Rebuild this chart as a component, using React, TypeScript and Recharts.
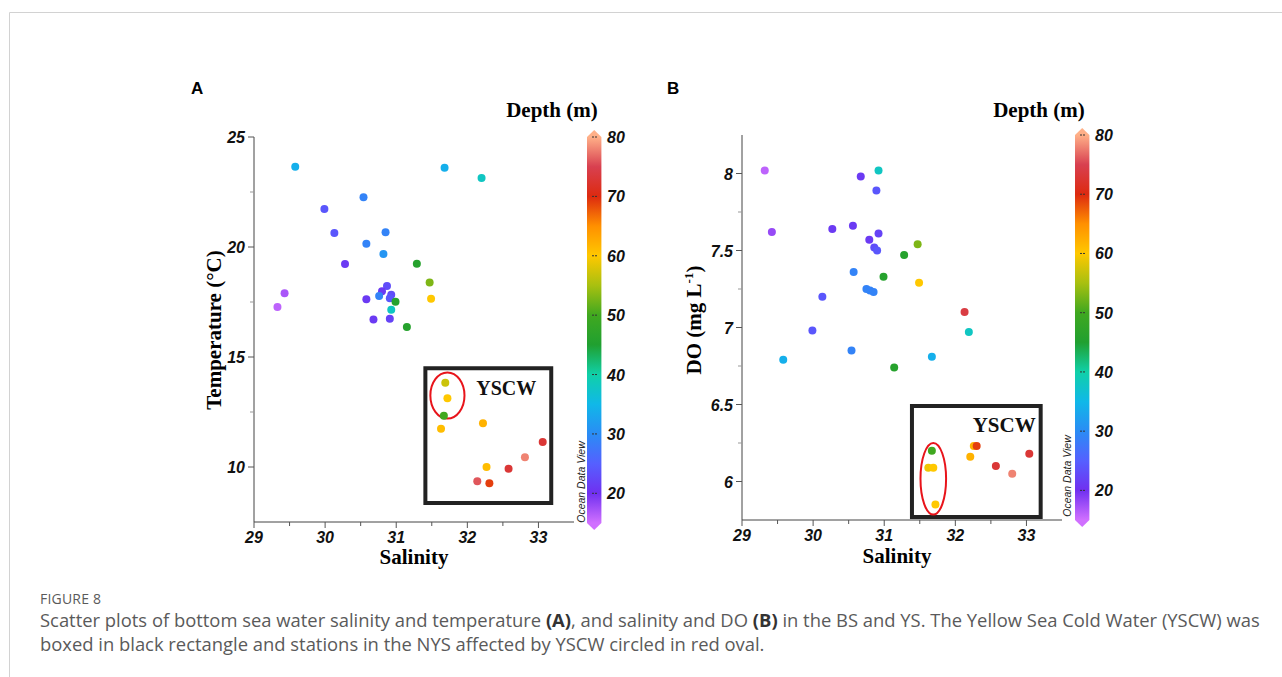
import React from 'react';
import { ScatterChart, Scatter, XAxis, YAxis, ReferenceArea, Label, BarChart, Bar } from 'recharts';

// Panel A: bottom salinity vs temperature
const salinityA = [29.58, 31.68, 32.2, 30.54, 29.99, 30.13, 30.85, 30.58, 30.82, 30.28, 31.29, 31.47, 31.49, 29.43, 29.33, 30.58, 30.87, 30.8, 30.76, 30.93, 30.91, 30.99, 30.93, 30.68, 30.91, 31.15, 31.69, 31.72, 31.67, 31.63, 32.22, 33.06, 32.81, 32.27, 32.58, 32.14, 32.31];
const temperatureA = [23.65, 23.6, 23.14, 22.26, 21.73, 20.64, 20.67, 20.15, 19.68, 19.23, 19.24, 18.39, 17.65, 17.9, 17.27, 17.62, 18.23, 17.99, 17.77, 17.83, 17.67, 17.51, 17.15, 16.7, 16.74, 16.36, 13.83, 13.12, 12.33, 11.74, 11.99, 11.14, 10.44, 10.0, 9.92, 9.35, 9.26];
const depthA = [34, 34, 38, 29, 24, 24, 29, 29, 31, 21, 46, 53, 60, 17, 16, 21, 23, 21, 29, 23, 24, 46, 38, 21, 22, 46, 57, 60, 50, 61, 62, 73, 78, 61, 73, 76, 69];

// Panel B: bottom salinity vs DO
const salinityB = [29.32, 30.92, 30.67, 30.89, 29.42, 30.27, 30.56, 30.92, 30.79, 30.86, 30.9, 31.47, 31.28, 30.57, 30.99, 31.49, 30.75, 30.8, 30.85, 30.13, 32.13, 29.99, 32.19, 30.54, 29.58, 31.67, 31.14, 31.67, 31.62, 31.69, 31.72, 32.26, 32.3, 32.21, 32.57, 32.8, 33.04];
const oxygenB = [8.02, 8.02, 7.98, 7.89, 7.62, 7.64, 7.66, 7.61, 7.57, 7.52, 7.5, 7.54, 7.47, 7.36, 7.33, 7.29, 7.25, 7.24, 7.23, 7.2, 7.1, 6.98, 6.97, 6.85, 6.79, 6.81, 6.74, 6.2, 6.09, 6.09, 5.85, 6.23, 6.23, 6.16, 6.1, 6.05, 6.18];
const depthB = [16, 38, 21, 24, 18, 21, 21, 22, 21, 23, 24, 53, 46, 29, 46, 60, 29, 29, 29, 24, 74, 24, 38, 29, 34, 34, 46, 50, 59, 60, 60, 62, 69, 62, 73, 78, 73];

const salinityTicks = [29, 29.5, 30, 30.5, 31, 31.5, 32, 32.5, 33];
const temperatureTicks = [10, 12.5, 15, 17.5, 20, 22.5, 25];
const oxygenTicks = [6, 6.25, 6.5, 6.75, 7, 7.25, 7.5, 7.75, 8];
const depthTicks = [20, 30, 40, 50, 60, 70, 80];

// YSCW box and NYS oval (data coordinates)
const boxA = { x1: 31.41, x2: 33.18, y1: 8.36, y2: 14.49 };
const ovalA = { x1: 31.48, x2: 31.96, y1: 12.2, y2: 14.3 };
const boxB = { x1: 31.39, x2: 33.2, y1: 5.77, y2: 6.49 };
const ovalB = { x1: 31.51, x2: 31.87, y1: 5.785, y2: 6.25 };

// Ocean Data View style depth palette
const depthStops: [number, string][] = [
  [15, '#d070ff'], [20, '#7030f0'], [25, '#5560ff'], [30, '#2a8cf5'], [35, '#10b8e8'],
  [40, '#10d0a8'], [45, '#20a030'], [50, '#40a820'], [55, '#a8c010'], [60, '#ffc800'],
  [65, '#ff9000'], [70, '#dd2a10'], [75, '#d84050'], [80, '#ffb088'],
];

function hex(c: string) {
  return [1, 3, 5].map(i => parseInt(c.slice(i, i + 2), 16));
}
function depthColor(d: number) {
  if (d <= depthStops[0][0]) return depthStops[0][1];
  for (let i = 1; i < depthStops.length; i++) {
    const [d1, c1] = depthStops[i];
    const [d0, c0] = depthStops[i - 1];
    if (d <= d1) {
      const t = (d - d0) / (d1 - d0);
      const a = hex(c0), b = hex(c1);
      return `rgb(${a.map((v, k) => Math.round(v + (b[k] - v) * t)).join(',')})`;
    }
  }
  return depthStops[depthStops.length - 1][1];
}

const dataA = salinityA.map((s, i) => ({ x: s, y: temperatureA[i], color: depthColor(depthA[i]) }));
const dataB = salinityB.map((s, i) => ({ x: s, y: oxygenB[i], color: depthColor(depthB[i]) }));

const SANS = '"Liberation Sans", Arial, sans-serif';
const SERIF = '"Liberation Serif", "Times New Roman", serif';

const TickText = ({ children, ...rest }: any) => (
  <text {...rest} fontFamily={SANS} fontWeight="bold" fontStyle="italic" fontSize={16} fill="#111">{children}</text>
);

const XTick = (p: any) => {
  const major = Number.isInteger(p.payload.value);
  return (
    <g>
      <line x1={p.x} x2={p.x} y1={p.y} y2={p.y + (major ? 6 : 4)} stroke="#555" />
      {major && <TickText x={p.x} y={p.y + 21} textAnchor="middle">{p.payload.value}</TickText>}
    </g>
  );
};

const makeYTick = (isMajor: (v: number) => boolean) => (p: any) => {
  const major = isMajor(p.payload.value);
  return (
    <g>
      <line x1={p.x - (major ? 6 : 4)} x2={p.x} y1={p.y} y2={p.y} stroke={major ? '#555' : '#999'} />
      {major && <TickText x={p.x - 9} y={p.y + 6} textAnchor="end">{p.payload.value}</TickText>}
    </g>
  );
};

const dot = (p: any) => <circle cx={p.cx} cy={p.cy} r={4} fill={p.payload.color} />;
const ellipse = (p: any) => (
  <ellipse cx={p.x + p.width / 2} cy={p.y + p.height / 2} rx={p.width / 2} ry={p.height / 2} fill="none" stroke="#e8141b" strokeWidth={2} />
);

function Panel({ left, top, margin, data, yDomain, yTicks, isMajorY, box, oval, textRight, textDown, textSize }: any) {
  return (
    <div style={{ position: 'absolute', left, top }}>
      <ScatterChart width={450} height={520} margin={margin}>
        <XAxis type="number" dataKey="x" domain={[29, 33.5]} ticks={salinityTicks} allowDataOverflow
          height={30} tickSize={0} tickMargin={0} tick={XTick} axisLine={{ stroke: '#444' }} tickLine={false} />
        <YAxis type="number" dataKey="y" domain={yDomain} ticks={yTicks} allowDataOverflow
          width={40} tickSize={0} tickMargin={0} tick={makeYTick(isMajorY)} axisLine={{ stroke: '#444' }} tickLine={false} />
        <XAxis xAxisId="top" orientation="top" type="number" domain={[29, 33.5]} height={0} tick={false} tickLine={false} axisLine={{ stroke: '#aaa' }} />
        <YAxis yAxisId="right" orientation="right" type="number" domain={yDomain} width={0} tick={false} tickLine={false} axisLine={{ stroke: '#aaa' }} />
        <ReferenceArea x1={box.x1} x2={box.x2} y1={box.y1} y2={box.y2} fill="none" fillOpacity={0} stroke="#222" strokeWidth={4}>
          <Label content={(lp: any) => (
            <text x={lp.viewBox.x + lp.viewBox.width - textRight} y={lp.viewBox.y + textDown} textAnchor="end"
              fontFamily={SERIF} fontWeight="bold" fontSize={textSize} fill="#111">YSCW</text>
          )} />
        </ReferenceArea>
        <ReferenceArea x1={oval.x1} x2={oval.x2} y1={oval.y1} y2={oval.y2} shape={ellipse} />
        <Scatter data={data} shape={dot} isAnimationActive={false} />
      </ScatterChart>
    </div>
  );
}

function ColorBar({ left, top, plotH, id }: any) {
  const mt = 16;
  const gid = `depthGrad${id}`;
  const arrowBar = (p: any) => (
    <path d={`M${p.x},${p.y} L${p.x + p.width / 2},${p.y - 7} L${p.x + p.width},${p.y} L${p.x + p.width},${p.y + p.height} L${p.x + p.width / 2},${p.y + p.height + 7} L${p.x},${p.y + p.height} Z`}
      fill={`url(#${gid})`} />
  );
  const cbTick = (p: any) => (
    <g>
      <line x1={p.x - 10} x2={p.x - 4} y1={p.y} y2={p.y} stroke="#333" strokeDasharray="2 1" />
      <TickText x={p.x + 5} y={p.y + 6}>{p.payload.value}</TickText>
    </g>
  );
  return (
    <div style={{ position: 'absolute', left, top }}>
      <BarChart width={52} height={plotH + mt * 2} data={[{ k: 'depth', v: 80 }]} margin={{ top: mt, bottom: mt, left: 0, right: 0 }}>
        <defs>
          <linearGradient id={gid} x1="0" y1={mt} x2="0" y2={mt + plotH} gradientUnits="userSpaceOnUse">
            {depthStops.slice().reverse().map(([d, c]) => (
              <stop key={d} offset={(80 - d) / 65} stopColor={c} />
            ))}
          </linearGradient>
        </defs>
        <XAxis dataKey="k" hide />
        <YAxis orientation="right" type="number" domain={[15, 80]} ticks={depthTicks} width={36}
          tickSize={0} tickMargin={0} tickLine={false} axisLine={false} tick={cbTick} />
        <Bar dataKey="v" barSize={16} shape={arrowBar} isAnimationActive={false} />
      </BarChart>
    </div>
  );
}

export default function App() {
  const caption = { fontFamily: '"Open Sans", "Noto Sans", sans-serif', color: '#5a5a5a' };
  return (
    <div style={{ position: 'absolute', left: 0, top: 0, width: 1282, height: 677, background: '#fff', overflow: 'hidden' }}>
      <Panel left={150} top={60} margin={{ top: 77, right: 26, left: 64, bottom: 28 }} data={dataA}
        yDomain={[7.5, 25]} yTicks={temperatureTicks} isMajorY={(v: number) => v % 5 === 0}
        box={boxA} oval={ovalA} textRight={15} textDown={27} textSize={20} />
      <Panel left={640} top={60} margin={{ top: 75, right: 28, left: 62, bottom: 30 }} data={dataB}
        yDomain={[5.75, 8.25]} yTicks={oxygenTicks} isMajorY={(v: number) => Number.isInteger(v * 2)}
        box={boxB} oval={ovalB} textRight={5} textDown={26} textSize={21} />
      <ColorBar left={586} top={121} plotH={386} id="A" />
      <ColorBar left={1074} top={119} plotH={385} id="B" />

      <svg width={1282} height={677} style={{ position: 'absolute', left: 0, top: 0, pointerEvents: 'none' }}>
        <line x1={9.5} y1={12.5} x2={1282} y2={12.5} stroke="#d2d2d2" />
        <line x1={9.5} y1={12.5} x2={9.5} y2={677} stroke="#d2d2d2" />
        <text x={191} y={94} fontFamily={SANS} fontWeight="bold" fontSize={17}>A</text>
        <text x={667} y={94} fontFamily={SANS} fontWeight="bold" fontSize={17}>B</text>
        <text x={552} y={117} textAnchor="middle" fontFamily={SERIF} fontWeight="bold" fontSize={21}>Depth (m)</text>
        <text x={1039} y={117} textAnchor="middle" fontFamily={SERIF} fontWeight="bold" fontSize={21}>Depth (m)</text>
        <text x={414} y={564} textAnchor="middle" fontFamily={SERIF} fontWeight="bold" fontSize={21}>Salinity</text>
        <text x={897} y={563} textAnchor="middle" fontFamily={SERIF} fontWeight="bold" fontSize={21}>Salinity</text>
        <text transform="translate(221,330) rotate(-90)" textAnchor="middle" fontFamily={SERIF} fontWeight="bold" fontSize={21}>Temperature (°C)</text>
        <text transform="translate(701,320) rotate(-90)" textAnchor="middle" fontFamily={SERIF} fontWeight="bold" fontSize={21}>
          DO (mg L<tspan dy={-8} fontSize={13}>-1</tspan><tspan dy={8}>)</tspan>
        </text>
        <text transform="translate(585,482) rotate(-90)" textAnchor="middle" fontFamily={SANS} fontStyle="italic" fontSize={10.5} fill="#222">Ocean Data View</text>
        <text transform="translate(1071,476) rotate(-90)" textAnchor="middle" fontFamily={SANS} fontStyle="italic" fontSize={10.5} fill="#222">Ocean Data View</text>
      </svg>

      <div style={{ ...caption, position: 'absolute', left: 40, top: 589, fontSize: 14, letterSpacing: 0.2 }}>FIGURE 8</div>
      <div style={{ ...caption, position: 'absolute', left: 40, top: 608, fontSize: 18.4, lineHeight: '24px', whiteSpace: 'nowrap' }}>
        Scatter plots of bottom sea water salinity and temperature <b style={{ color: '#333' }}>(A)</b>, and salinity and DO <b style={{ color: '#333' }}>(B)</b> in the BS and YS. The Yellow Sea Cold Water (YSCW) was
        <br />
        boxed in black rectangle and stations in the NYS affected by YSCW circled in red oval.
      </div>
    </div>
  );
}
